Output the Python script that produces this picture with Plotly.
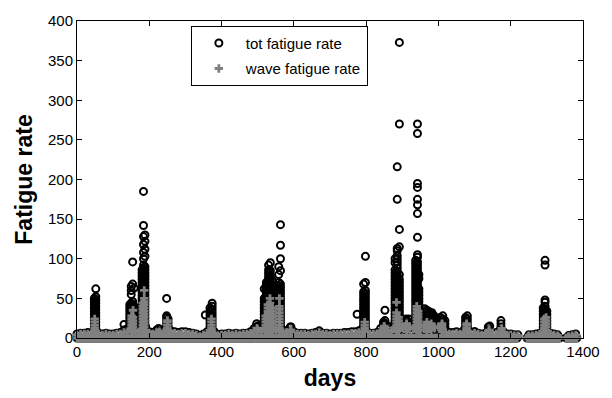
import plotly.graph_objects as go

# ---------------- data ----------------
# days where the record is at zero (lower band)
zero_days = (list(range(0, 1221, 6)) + list(range(1245, 1336, 6)) +
             list(range(1353, 1386, 6)))

# background level every 10 days
base_days = (list(range(0, 1221, 10)) + list(range(1250, 1331, 10)) +
             list(range(1360, 1381, 10)))
base_tot = [5, 6, 6, 7, 6, 8, 6, 5, 6, 5, 5, 6, 7, 10, 12, 15, 14, 10, 12, 14,
            8, 7, 10, 9, 10, 12, 9, 8, 7, 8, 8, 7, 6, 5, 3, 5, 8, 12, 8,
            4, 5, 5, 6, 5, 6, 5, 6, 6, 8, 12, 15, 12, 14, 16, 15, 14, 15, 10,
            9, 14, 8, 6, 6, 6, 5, 6, 7, 9, 6, 6, 5, 6, 6, 6, 7, 7, 8, 8, 9,
            12, 10, 6, 6, 7, 12, 18, 15, 12, 20, 18, 20, 22, 20, 18, 20, 15,
            25, 28, 25, 20, 22, 20, 10, 7, 7, 8, 6, 10, 12, 7, 8, 6, 5, 6, 10,
            6, 7, 10, 8, 5, 5, 4, 4,
            4, 4, 5, 6, 10, 8, 6, 5, 4,
            3, 4, 5]
base_wave = [4, 5, 5, 5, 5, 6, 5, 4, 5, 4, 4, 5, 5, 7, 8, 10, 10, 7, 9, 10,
             6, 5, 7, 6, 7, 8, 6, 6, 5, 6, 6, 5, 5, 4, 2, 4, 6, 8, 6,
             3, 4, 4, 5, 4, 5, 4, 5, 5, 6, 9, 10, 9, 10, 11, 10, 10, 10, 7,
             7, 10, 6, 5, 5, 5, 4, 5, 5, 7, 5, 5, 4, 5, 5, 5, 5, 5, 6, 6, 7,
             8, 7, 5, 5, 5, 9, 12, 10, 9, 13, 12, 13, 15, 14, 12, 13, 10,
             15, 16, 15, 13, 14, 13, 7, 5, 5, 6, 5, 7, 8, 5, 6, 5, 4, 5, 7,
             5, 5, 7, 6, 4, 4, 3, 3,
             3, 3, 4, 5, 7, 6, 5, 4, 3,
             2, 3, 4]

# storm peaks: total fatigue rate samples
tot_peak_days = [48, 52, 130, 146, 150, 154, 158, 180, 184, 188, 226, 248, 252,
                 355, 368, 374, 497, 518, 524, 530, 535, 541, 546, 558, 563,
                 592, 672, 775, 793, 798, 848, 852, 880, 886, 892, 910, 918,
                 937, 942, 946, 962, 968, 975, 982, 988, 1005, 1012, 1018,
                 1075, 1080, 1100, 1138, 1142, 1173, 1290, 1295, 1300]
tot_peak_vals = [
    [10, 14, 18, 22, 26, 30, 34, 38, 42, 46, 50],
    [12, 16, 20, 24, 28, 32, 36, 40, 44, 48, 52, 62],
    [17],
    [10, 14, 18, 22, 26, 30, 34, 38, 42],
    [12, 16, 20, 24, 28, 32, 36, 40, 44, 55, 60, 65],
    [10, 14, 18, 22, 26, 30, 34, 38, 42, 46, 68, 96],
    [12, 16, 20, 24, 28, 32, 36, 40, 63],
    [10, 14, 18, 22, 26, 30, 34, 38, 42, 46, 50, 54, 58, 62, 66, 70, 74, 78, 82, 86],
    [12, 16, 20, 24, 28, 32, 36, 40, 44, 48, 52, 56, 60, 64, 68, 72, 76, 80, 84, 88,
     92, 100, 108, 118, 128, 142, 185],
    [10, 14, 18, 22, 26, 30, 34, 38, 42, 46, 50, 54, 58, 62, 66, 70, 74, 78, 82, 86,
     90, 103, 112, 122, 130],
    [8, 12],
    [10, 14, 18, 22, 26, 28, 50],
    [12, 16, 20, 24],
    [29],
    [10, 14, 18, 22, 26, 30, 34, 38],
    [12, 16, 20, 24, 28, 32, 36, 40, 44],
    [10, 14, 18],
    [10, 14, 18, 22, 26, 30, 34, 38, 42, 46, 50, 62],
    [12, 16, 20, 24, 28, 32, 36, 40, 44, 48, 52, 56, 60, 64, 68, 70],
    [10, 14, 18, 22, 26, 30, 34, 38, 42, 46, 50, 54, 58, 62, 66, 70, 74, 78, 82, 86, 92],
    [12, 16, 20, 24, 28, 32, 36, 40, 44, 48, 52, 56, 60, 64, 68, 72, 76, 80, 85, 95],
    [10, 14, 18, 22, 26, 30, 34, 38, 42, 46, 50, 54, 58, 62, 66, 72],
    [12, 16, 20, 24, 28, 32, 36, 40, 44, 48, 52],
    [10, 14, 18, 22, 26, 30, 34, 38, 42, 46, 50, 54, 58, 62, 66, 70, 80, 90],
    [12, 16, 20, 24, 28, 32, 36, 40, 44, 48, 52, 56, 60, 64, 68, 85, 100, 117, 143],
    [10, 14],
    [8],
    [30],
    [10, 14, 18, 22, 26, 30, 34, 38, 42, 46, 50, 54, 58, 68],
    [12, 16, 20, 24, 28, 32, 36, 40, 44, 48, 52, 56, 60, 70, 103],
    [12, 16, 20],
    [14, 18, 22, 35],
    [10, 14, 18, 22, 26, 30, 34, 38, 42, 46, 50, 54, 58, 62, 66, 70, 74, 78, 82, 86, 95, 100],
    [12, 16, 20, 24, 28, 32, 36, 40, 44, 48, 52, 56, 60, 64, 68, 72, 76, 80, 84, 88,
     92, 96, 100, 104, 110, 113, 175, 216],
    [10, 14, 18, 22, 26, 30, 34, 38, 42, 46, 50, 54, 58, 62, 66, 70, 74, 80, 115,
     137, 270, 373],
    [10, 14, 18, 22, 24],
    [12, 16, 20, 24],
    [10, 14, 18, 22, 26, 30, 34, 38, 42, 46, 50, 54, 58, 62, 66, 70, 74, 78, 82, 86,
     90, 94, 98],
    [12, 16, 20, 24, 28, 32, 36, 40, 44, 48, 52, 56, 60, 64, 68, 72, 76, 80, 84, 88,
     92, 96, 102, 105, 127, 157, 168, 175, 190, 195, 258, 270],
    [10, 14, 18, 22, 26, 30, 34, 38, 42, 46, 50, 54, 58, 62, 75, 80],
    [10, 14, 18, 22, 26, 30, 34, 37],
    [12, 16, 20, 24, 28, 32, 35],
    [10, 14, 18, 22, 26, 30, 33],
    [12, 16, 20, 24, 28, 32],
    [10, 14, 18, 22, 26, 28],
    [10, 14, 18, 22, 26],
    [12, 16, 20, 24, 28],
    [10, 14, 18, 22],
    [10, 14, 18, 22, 26],
    [12, 16, 20, 24, 28],
    [8],
    [10, 14],
    [15],
    [10, 14, 18, 22],
    [10, 14, 18, 22, 26, 30, 34, 38],
    [12, 16, 20, 24, 28, 32, 36, 40, 45, 48, 92, 98],
    [10, 14, 18, 22, 26, 30, 34],
]

# storm peaks: wave fatigue rate samples
wave_peak_days = [49, 151, 155, 182, 186, 228, 250, 372, 498, 522, 528, 534,
                  540, 560, 592, 796, 850, 884, 890, 912, 940, 944, 968, 980,
                  1010, 1078, 1140, 1175, 1293, 1298]
wave_peak_vals = [
    [8, 12, 16, 20, 24],
    [8, 12, 16, 20, 24, 28],
    [10, 14, 18, 22, 26, 35],
    [8, 12, 16, 20, 24, 28, 32, 36, 40, 44],
    [10, 14, 18, 22, 26, 30, 34, 38, 42, 46, 50, 60],
    [8],
    [8, 12, 16, 20, 22],
    [8, 12, 16, 20, 24],
    [8, 12],
    [8, 12, 16, 20, 24, 28],
    [10, 14, 18, 22, 26, 30, 34, 38, 42],
    [8, 12, 16, 20, 24, 28, 32, 36, 40, 44, 50],
    [10, 14, 18, 22, 26, 30, 34, 38],
    [8, 12, 16, 20, 24, 28, 32, 36, 40, 50],
    [8, 10],
    [8, 12, 16, 20],
    [8, 12, 15],
    [8, 12, 16, 20, 24, 28, 32, 45],
    [10, 14, 18, 22, 26],
    [8, 12, 16, 18],
    [8, 12, 16, 20, 24, 28, 32, 36, 40],
    [10, 14, 18, 22, 26, 30, 34],
    [8, 12, 16, 20],
    [10, 14, 18],
    [8, 12, 16, 18],
    [8, 12, 16, 18],
    [8, 10],
    [8, 12],
    [8, 12, 16, 20, 24],
    [10, 14, 18, 22, 26],
]

# ---------------- assemble series ----------------
def flatten(days, vals):
    xs, ys = [], []
    for d, vs in zip(days, vals):
        for v in vs:
            xs.append(d)
            ys.append(v)
    return xs, ys

tpx, tpy = flatten(tot_peak_days, tot_peak_vals)
wpx, wpy = flatten(wave_peak_days, wave_peak_vals)

tot_x = zero_days + base_days + tpx
tot_y = [0] * len(zero_days) + base_tot + tpy
wave_x = zero_days + base_days + wpx
wave_y = [0] * len(zero_days) + base_wave + wpy

FONT = "Liberation Sans, Arial, sans-serif"

fig = go.Figure()
fig.add_trace(go.Scatter(
    x=tot_x, y=tot_y, mode="markers", name="tot fatigue rate", legendgroup="a",
    marker=dict(symbol="circle-open", size=7, color="black",
                line=dict(width=2, color="black")),
    cliponaxis=False))
fig.add_trace(go.Scatter(
    x=wave_x, y=wave_y, mode="markers", name="wave fatigue rate", legendgroup="b",
    marker=dict(symbol="cross", size=7, color="#808080", line=dict(width=0)),
    cliponaxis=False))

axis_common = dict(showline=True, linecolor="black", linewidth=1, mirror="ticks",
                   ticks="inside", ticklen=5, tickcolor="black", showgrid=False,
                   zeroline=False, tickfont=dict(family=FONT, size=15, color="black"))

fig.update_layout(
    width=612, height=398,
    margin=dict(l=77, r=19, t=15, b=55),
    paper_bgcolor="white", plot_bgcolor="white",
    xaxis=dict(range=[0, 1400], tickvals=[0, 200, 400, 600, 800, 1000, 1200, 1400],
               title=dict(text="days",
                          font=dict(family=FONT, size=23, color="black", weight="bold"),
                          standoff=10),
               **axis_common),
    yaxis=dict(range=[0, 400], tickvals=[0, 50, 100, 150, 200, 250, 300, 350, 400],
               title=dict(text="Fatigue rate",
                          font=dict(family=FONT, size=23, color="black", weight="bold"),
                          standoff=8),
               **axis_common),
    legend=dict(x=0.225, y=0.985, xanchor="left", yanchor="top",
                bgcolor="white", bordercolor="black", borderwidth=1,
                font=dict(family=FONT, size=15, color="black"),
                itemwidth=44, tracegroupgap=3),
    showlegend=True,
)

fig.write_html("out.html")
